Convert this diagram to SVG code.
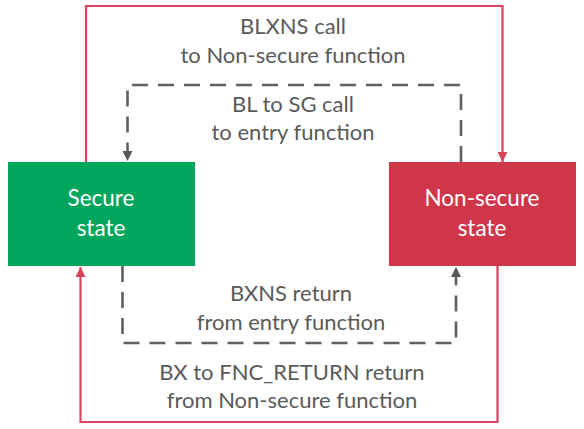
<svg xmlns="http://www.w3.org/2000/svg" width="584" height="429" viewBox="0 0 584 429">
<style>
.lbl{font-family:Lato,"Open Sans","Liberation Sans",sans-serif;font-size:22px;fill:#5a5a5a;text-anchor:middle}
.box{font-family:Lato,"Open Sans","Liberation Sans",sans-serif;font-size:22.5px;fill:#ffffff;text-anchor:middle}
.red{fill:none;stroke:#d9435a;stroke-width:2.2}
.dash{fill:none;stroke:#606060;stroke-width:2.6;stroke-dasharray:16 10}
</style>
<defs>
<marker id="ar" viewBox="0 0 10 10" refX="10" refY="5" markerWidth="10" markerHeight="10" markerUnits="userSpaceOnUse" orient="auto"><path d="M0,0 L10,5 L0,10 z" fill="#d9435a"/></marker>
<marker id="ag" viewBox="0 0 10 10" refX="10" refY="5" markerWidth="10" markerHeight="10" markerUnits="userSpaceOnUse" orient="auto"><path d="M0,0 L10,5 L0,10 z" fill="#555555"/></marker>
</defs>
<rect width="584" height="429" fill="#ffffff"/>
<g id="connectors">
<path class="red" d="M86,162 V6 H502.5 V162" marker-end="url(#ar)"/>
<path class="dash" d="M461,162 V85 H127.5 V161" marker-end="url(#ag)"/>
<path class="dash" d="M122.5,266 V343 H456 V267" marker-end="url(#ag)"/>
<path class="red" d="M497.5,266 V422 H80.5 V267" marker-end="url(#ar)"/>
<text class="lbl" x="293" y="34">BLXNS call</text>
<text class="lbl" x="293" y="63">to Non-secure function</text>
<text class="lbl" x="293" y="112">BL to SG call</text>
<text class="lbl" x="293" y="140">to entry function</text>
<text class="lbl" x="291" y="301">BXNS return</text>
<text class="lbl" x="291" y="330">from entry function</text>
<text class="lbl" x="292" y="380">BX to FNC_RETURN return</text>
<text class="lbl" x="292" y="408">from Non-secure function</text>
</g>
<g id="secure">
<rect x="8" y="162" width="187" height="104" fill="#00a65c"/>
<text class="box" x="101" y="206">Secure</text>
<text class="box" x="101" y="236">state</text>
</g>
<g id="nonsecure">
<rect x="389" y="162" width="187" height="104" fill="#d0364a"/>
<text class="box" x="482" y="206">Non-secure</text>
<text class="box" x="482" y="236">state</text>
</g>
</svg>
